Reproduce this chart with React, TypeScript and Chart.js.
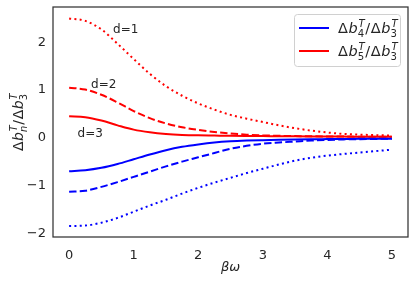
import React, { useEffect, useRef } from "react";
import { Chart, registerables } from "chart.js";

Chart.register(...registerables);

// ---- data ----
const xValues = [0, 0.25, 0.5, 0.75, 1, 1.25, 1.5, 1.75, 2, 2.25, 2.5, 2.75, 3, 3.25, 3.5, 3.75, 4, 4.25, 4.5, 4.75, 5];

const red_d1 = [2.5, 2.45, 2.27, 1.97, 1.65, 1.34, 1.08, 0.88, 0.72, 0.59, 0.48, 0.4, 0.33, 0.26, 0.2, 0.15, 0.11, 0.08, 0.065, 0.055, 0.045];
const red_d2 = [1.05, 1.01, 0.9, 0.74, 0.56, 0.41, 0.3, 0.22, 0.165, 0.12, 0.09, 0.065, 0.05, 0.04, 0.035, 0.03, 0.027, 0.025, 0.022, 0.02, 0.02];
const red_d3 = [0.45, 0.43, 0.36, 0.26, 0.17, 0.115, 0.08, 0.06, 0.05, 0.045, 0.04, 0.037, 0.035, 0.032, 0.03, 0.028, 0.026, 0.024, 0.022, 0.021, 0.02];
const blue_d3 = [-0.7, -0.68, -0.63, -0.55, -0.45, -0.35, -0.26, -0.19, -0.14, -0.1, -0.075, -0.06, -0.05, -0.042, -0.036, -0.031, -0.028, -0.025, -0.022, -0.02, -0.02];
const blue_d2 = [-1.13, -1.11, -1.03, -0.93, -0.82, -0.71, -0.6, -0.5, -0.41, -0.32, -0.23, -0.17, -0.125, -0.1, -0.08, -0.06, -0.045, -0.035, -0.03, -0.025, -0.02];
const blue_d1 = [-1.85, -1.84, -1.78, -1.68, -1.55, -1.42, -1.3, -1.17, -1.05, -0.94, -0.84, -0.74, -0.65, -0.56, -0.48, -0.42, -0.375, -0.34, -0.31, -0.28, -0.25];

const dLabels = ["d=1", "d=2", "d=3"];
const dLabelPos = [
  { x: 0.68, y: 2.2 },
  { x: 0.34, y: 1.05 },
  { x: 0.13, y: 0.02 },
];

const RED = "#ff0000";
const BLUE = "#0000ff";
const FONT = "'DejaVu Sans', sans-serif";
const TEXT = "#262626";

type Tok = { b: string; it?: boolean; sub?: string; sup?: string };

const legendTokens: Tok[][] = [
  [{ b: "Δ" }, { b: "b", it: true, sub: "4", sup: "T" }, { b: "/" }, { b: "Δ" }, { b: "b", it: true, sub: "3", sup: "T" }],
  [{ b: "Δ" }, { b: "b", it: true, sub: "5", sup: "T" }, { b: "/" }, { b: "Δ" }, { b: "b", it: true, sub: "3", sup: "T" }],
];
const yTitleTokens: Tok[] = [{ b: "Δ" }, { b: "b", it: true, sub: "n", sup: "T" }, { b: "/" }, { b: "Δ" }, { b: "b", it: true, sub: "3", sup: "T" }];

const isLetter = (s: string) => /[A-Za-z]/.test(s);

function font(size: number, it: boolean) {
  return `${it ? "italic " : ""}${size}px ${FONT}`;
}

function mathWidth(ctx: CanvasRenderingContext2D, toks: Tok[], size: number) {
  let w = 0;
  const ss = size * 0.7;
  for (const t of toks) {
    ctx.font = font(size, !!t.it);
    w += ctx.measureText(t.b).width;
    let sw = 0;
    if (t.sup) {
      ctx.font = font(ss, isLetter(t.sup));
      sw = Math.max(sw, ctx.measureText(t.sup).width + size * 0.06);
    }
    if (t.sub) {
      ctx.font = font(ss, isLetter(t.sub));
      sw = Math.max(sw, ctx.measureText(t.sub).width);
    }
    w += sw + size * 0.04;
  }
  return w;
}

function drawMath(ctx: CanvasRenderingContext2D, toks: Tok[], x: number, y: number, size: number) {
  let cx = x;
  const ss = size * 0.7;
  ctx.textAlign = "left";
  ctx.textBaseline = "alphabetic";
  for (const t of toks) {
    ctx.font = font(size, !!t.it);
    ctx.fillText(t.b, cx, y);
    cx += ctx.measureText(t.b).width;
    let sw = 0;
    if (t.sup) {
      ctx.font = font(ss, isLetter(t.sup));
      ctx.fillText(t.sup, cx + size * 0.06, y - size * 0.42);
      sw = Math.max(sw, ctx.measureText(t.sup).width + size * 0.06);
    }
    if (t.sub) {
      ctx.font = font(ss, isLetter(t.sub));
      ctx.fillText(t.sub, cx, y + size * 0.25);
      sw = Math.max(sw, ctx.measureText(t.sub).width);
    }
    cx += sw + size * 0.04;
  }
}

const decorPlugin = {
  id: "decor",
  afterDraw(chart: any) {
    const ctx: CanvasRenderingContext2D = chart.ctx;
    const a = chart.chartArea;
    const xs = chart.scales.x;
    const ys = chart.scales.y;
    ctx.save();
    // spines
    ctx.strokeStyle = "#333333";
    ctx.lineWidth = 1.25;
    ctx.strokeRect(a.left, a.top, a.right - a.left, a.bottom - a.top);

    // d labels
    ctx.fillStyle = TEXT;
    ctx.font = font(12, false);
    ctx.textAlign = "left";
    ctx.textBaseline = "alphabetic";
    dLabels.forEach((lab, i) => {
      ctx.fillText(lab, xs.getPixelForValue(dLabelPos[i].x), ys.getPixelForValue(dLabelPos[i].y));
    });

    // legend
    const lx = 294, ly = 14, lw = 106, lh = 52;
    ctx.beginPath();
    (ctx as any).roundRect(lx + 0.5, ly + 0.5, lw, lh, 3);
    ctx.fillStyle = "rgba(255,255,255,0.8)";
    ctx.fill();
    ctx.strokeStyle = "#d0d0d0";
    ctx.lineWidth = 1;
    ctx.stroke();
    const rows = [
      { color: BLUE, y: 28 },
      { color: RED, y: 51 },
    ];
    rows.forEach((r, i) => {
      ctx.strokeStyle = r.color;
      ctx.lineWidth = 2;
      ctx.beginPath();
      ctx.moveTo(299, r.y);
      ctx.lineTo(329, r.y);
      ctx.stroke();
      ctx.fillStyle = TEXT;
      drawMath(ctx, legendTokens[i], 338, r.y + 5, 14.5);
    });

    // y title
    ctx.save();
    const ySize = 14;
    const yw = mathWidth(ctx, yTitleTokens, ySize);
    ctx.translate(23, (a.top + a.bottom) / 2);
    ctx.rotate(-Math.PI / 2);
    ctx.fillStyle = TEXT;
    drawMath(ctx, yTitleTokens, -yw / 2, 0, ySize);
    ctx.restore();

    // x title
    ctx.fillStyle = TEXT;
    ctx.font = font(13, true);
    ctx.textAlign = "center";
    ctx.textBaseline = "alphabetic";
    ctx.fillText("βω", (a.left + a.right) / 2, 271);
    ctx.restore();
  },
};

function pts(ys: number[]) {
  return xValues.map((x, i) => ({ x, y: ys[i] }));
}

export default function App() {
  const ref = useRef<HTMLCanvasElement>(null);
  useEffect(() => {
    document.body.style.margin = "0";
    const ds = (data: number[], color: string, dash: number[]) => ({
      data: pts(data),
      borderColor: color,
      backgroundColor: color,
      borderWidth: 2,
      borderDash: dash,
      borderCapStyle: "butt" as const,
      pointRadius: 0,
      cubicInterpolationMode: "monotone" as const,
      fill: false,
    });
    const chart = new Chart(ref.current!, {
      type: "line",
      data: {
        datasets: [
          ds(blue_d3, BLUE, []),
          ds(red_d3, RED, []),
          ds(blue_d2, BLUE, [7.4, 3.2]),
          ds(red_d2, RED, [7.4, 3.2]),
          ds(blue_d1, BLUE, [2, 3.3]),
          ds(red_d1, RED, [2, 3.3]),
        ],
      },
      options: {
        animation: false,
        responsive: false,
        layout: { padding: { top: 7, right: 7, left: 0, bottom: 0 } },
        plugins: { legend: { display: false }, tooltip: { enabled: false } },
        scales: {
          x: {
            type: "linear",
            min: -0.25,
            max: 5.25,
            grid: { display: false, drawTicks: false },
            border: { display: false },
            ticks: { stepSize: 1, includeBounds: false, maxRotation: 0, padding: 11, color: TEXT, font: { family: FONT, size: 13 } },
            afterFit: (s: any) => {
              s.height = 47;
              s.paddingLeft = 0;
              s.paddingRight = 0;
            },
          },
          y: {
            type: "linear",
            min: -2.08,
            max: 2.74,
            grid: { display: false, drawTicks: false },
            border: { display: false },
            ticks: {
              stepSize: 1,
              includeBounds: false,
              padding: 7,
              color: TEXT,
              font: { family: FONT, size: 13 },
              callback: (v: any) => (Number(v) < 0 ? "−" + Math.abs(Number(v)) : String(v)),
            },
            afterFit: (s: any) => {
              s.width = 53;
              s.paddingTop = 0;
              s.paddingBottom = 0;
            },
          },
        },
      },
      plugins: [decorPlugin],
    });
    return () => chart.destroy();
  }, []);
  return (
    <div style={{ width: 415, height: 284 }}>
      <canvas ref={ref} width={415} height={284} style={{ display: "block" }} />
    </div>
  );
}
